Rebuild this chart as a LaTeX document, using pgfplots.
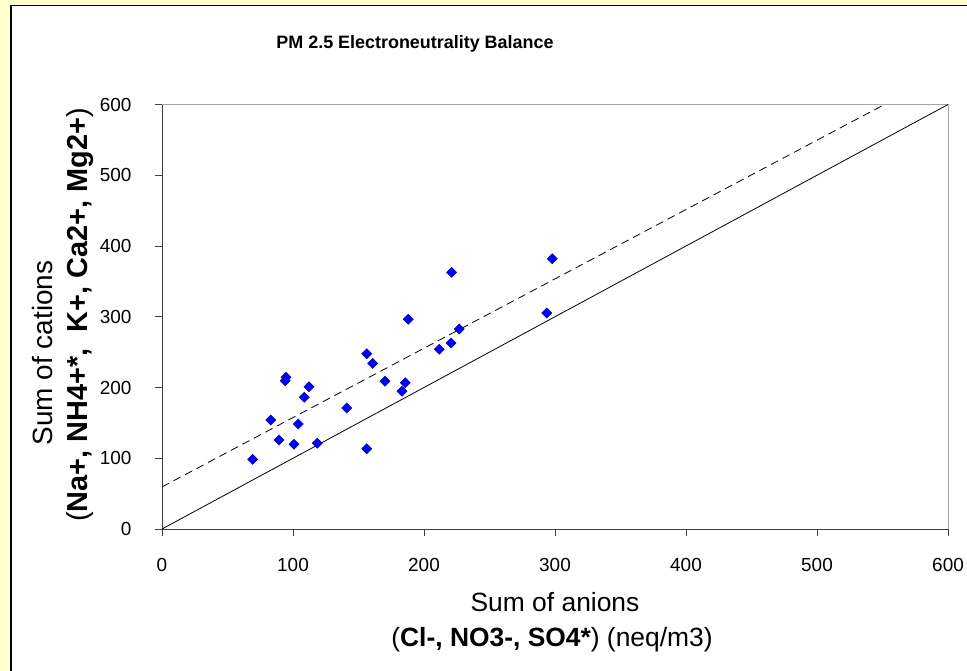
\documentclass[border=0pt]{standalone}
\usepackage{pgfplots}
\pgfplotsset{compat=1.18}
\usepackage{fontspec}
\setmainfont{Liberation Sans}
\definecolor{bgyellow}{RGB}{255,255,204}
\definecolor{mkblue}{RGB}{0,0,255}
\definecolor{mkedge}{RGB}{0,0,140}
\begin{document}
\begin{tikzpicture}[x=1bp,y=1bp]
\useasboundingbox (0,0) rectangle (967,671);
\fill[bgyellow] (0,0) rectangle (967,671);
\fill[white] (11,0) rectangle (967,665.5);
\draw[black, line width=1.6bp] (11,0) -- (11,665.5) -- (967,665.5);
\begin{axis}[
  at={(162bp,142bp)}, anchor=south west,
  scale only axis, width=786bp, height=424.5bp,
  xmin=0, xmax=600, ymin=0, ymax=600,
  xtick={0,100,...,600}, ytick={0,100,...,600},
  axis x line*=bottom, axis y line*=left,
  axis line style={draw=black!75, line width=0.8bp, -},
  tick align=outside, major tick length=7bp,
  tick style={black!75, line width=0.8bp},
  /pgf/number format/assume math mode=true,
  ticklabel style={font=\fontsize{19}{19}\selectfont},
  xticklabel style={yshift=-19bp},
  yticklabel style={xshift=-20bp},
  clip=false,
]
\draw[black!35, line width=1bp] (rel axis cs:0,1) -- (rel axis cs:1,1) -- (rel axis cs:1,0);
\addplot[black, line width=0.8bp] coordinates {(0,0) (600,600)};
\addplot[black, line width=0.8bp, dash pattern=on 8bp off 5bp] coordinates {(0,59.5) (551.5,600)};
\addplot[only marks, mark=square*, mark size=3.6bp,
  mark options={rotate=45, fill=mkblue, draw=mkedge, line width=0.4bp}]
  table {
x y
69.2 98.5
83.0 154.1
89.3 125.8
94.7 214.4
94.1 209.6
100.8 119.7
104.0 148.4
108.6 186.1
112.2 201.1
118.5 121.1
141.0 171.0
156.3 247.8
156.3 113.5
160.8 234.2
170.2 208.8
183.2 194.6
185.7 206.8
188.0 296.4
297.9 382.0
221.1 362.8
226.9 282.7
220.6 262.9
211.7 254.0
293.7 305.3
};
\end{axis}
\node[font=\bfseries\fontsize{18}{18}\selectfont] at (415,627) {PM 2.5 Electroneutrality Balance};
\node[font=\fontsize{26.5}{26.5}\selectfont] at (555,69) {Sum of anions};
\node[font=\fontsize{26.5}{26.5}\selectfont] at (552,31) {(\textbf{Cl-, NO3-, SO4*}) (neq/m3)};
\node[rotate=90, font=\fontsize{28}{28}\selectfont] at (43,318) {Sum of cations};
\node[rotate=90, font=\fontsize{29}{29}\selectfont] at (80,356) {(\textbf{Na+, NH4+*,\ \ K+, Ca2+, Mg2+})};
\end{tikzpicture}
\end{document}
